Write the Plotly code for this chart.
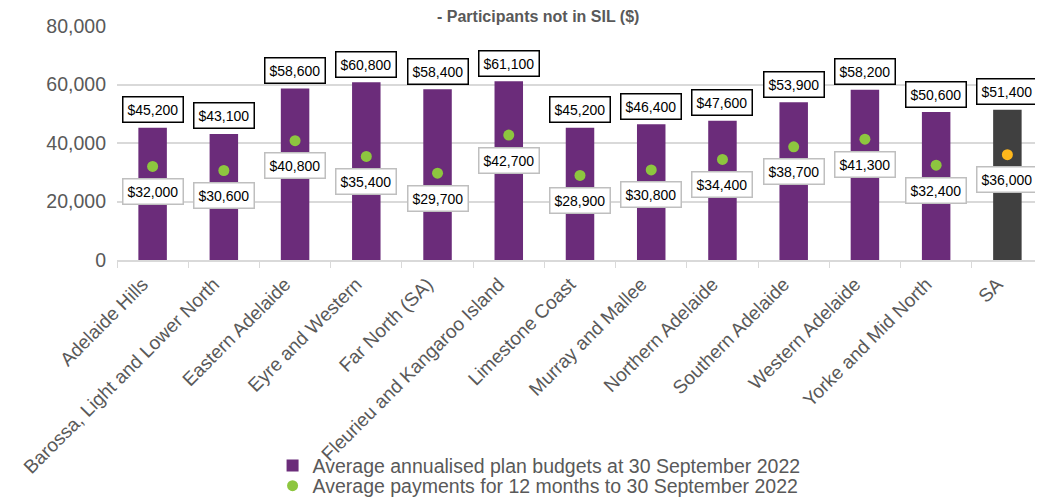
import plotly.graph_objects as go

categories = ["Adelaide Hills", "Barossa, Light and Lower North", "Eastern Adelaide",
              "Eyre and Western", "Far North (SA)", "Fleurieu and Kangaroo Island",
              "Limestone Coast", "Murray and Mallee", "Northern Adelaide",
              "Southern Adelaide", "Western Adelaide", "Yorke and Mid North", "SA"]
budgets = [45200, 43100, 58600, 60800, 58400, 61100, 45200, 46400, 47600, 53900, 58200, 50600, 51400]
payments = [32000, 30600, 40800, 35400, 29700, 42700, 28900, 30800, 34400, 38700, 41300, 32400, 36000]
y_ticks = [0, 20000, 40000, 60000, 80000]

PURPLE = "#6B2C7A"
GREY_BAR = "#404040"
GREEN = "#8DC63F"
ORANGE = "#FFB81C"
TXT = "#595959"
FONT = "Liberation Sans, Arial"

bar_colors = [PURPLE] * (len(categories) - 1) + [GREY_BAR]
dot_colors = [GREEN] * (len(categories) - 1) + [ORANGE]

fig = go.Figure()
fig.add_trace(go.Bar(
    x=categories, y=budgets, name="Average annualised plan budgets at 30 September 2022",
    marker=dict(color=bar_colors, line=dict(width=0)), width=0.4, legend="legend",
))
fig.add_trace(go.Scatter(
    x=categories, y=payments, mode="markers",
    name="Average payments for 12 months to 30 September 2022",
    marker=dict(color=dot_colors, size=11), legend="legend2",
))

annotations = []
for c, b, p in zip(categories, budgets, payments):
    annotations.append(dict(
        x=c, y=b, xref="x", yref="y", text="$" + format(b, ","), showarrow=False,
        yshift=18, font=dict(family=FONT, size=14, color="black"),
        bgcolor="white", bordercolor="black", borderwidth=1.5, borderpad=4,
    ))
    annotations.append(dict(
        x=c, y=p, xref="x", yref="y", text="$" + format(p, ","), showarrow=False,
        yshift=-25, font=dict(family=FONT, size=14, color="black"),
        bgcolor="white", bordercolor="#BFBFBF", borderwidth=1.5, borderpad=4,
    ))
annotations.append(dict(
    x=0.455, y=1.0385, xref="paper", yref="paper", text="<b>- Participants not in SIL ($)</b>",
    showarrow=False, font=dict(family=FONT, size=16, color=TXT),
    yanchor="middle",
))

legend_common = dict(orientation="v", xanchor="left", yanchor="middle",
                     font=dict(family=FONT, size=19.5, color=TXT), itemwidth=30,
                     bgcolor="rgba(0,0,0,0)", borderwidth=0)

fig.update_layout(
    width=1035, height=489,
    margin=dict(l=109, r=0, t=18, b=237, autoexpand=False),
    paper_bgcolor="white", plot_bgcolor="white",
    font=dict(family=FONT, color=TXT),
    showlegend=True,
    legend=dict(x=0.168, y=-0.880, **legend_common),
    legend2=dict(x=0.168, y=-0.966, **legend_common),
    annotations=annotations,
    bargap=0.6,
)
fig.update_yaxes(range=[0, 80000], tickvals=y_ticks, tickformat=",",
                 showgrid=True, gridcolor="#D9D9D9", gridwidth=1.5,
                 zeroline=False, showline=False, ticks="", automargin=False,
                 tickfont=dict(family=FONT, size=19.5, color=TXT), ticklabelstandoff=10)
fig.update_xaxes(type="category", tickangle=-45, automargin=False,
                 range=[-0.5, len(categories) - 0.5],
                 tickfont=dict(family=FONT, size=19, color=TXT),
                 ticklabelshift=-10, ticklabelstandoff=4,
                 showline=True, linecolor="#D9D9D9", linewidth=1.5,
                 ticks="outside", tickson="boundaries", ticklen=6, tickcolor="#D9D9D9",
                 showgrid=False)

fig.write_html("out.html")
